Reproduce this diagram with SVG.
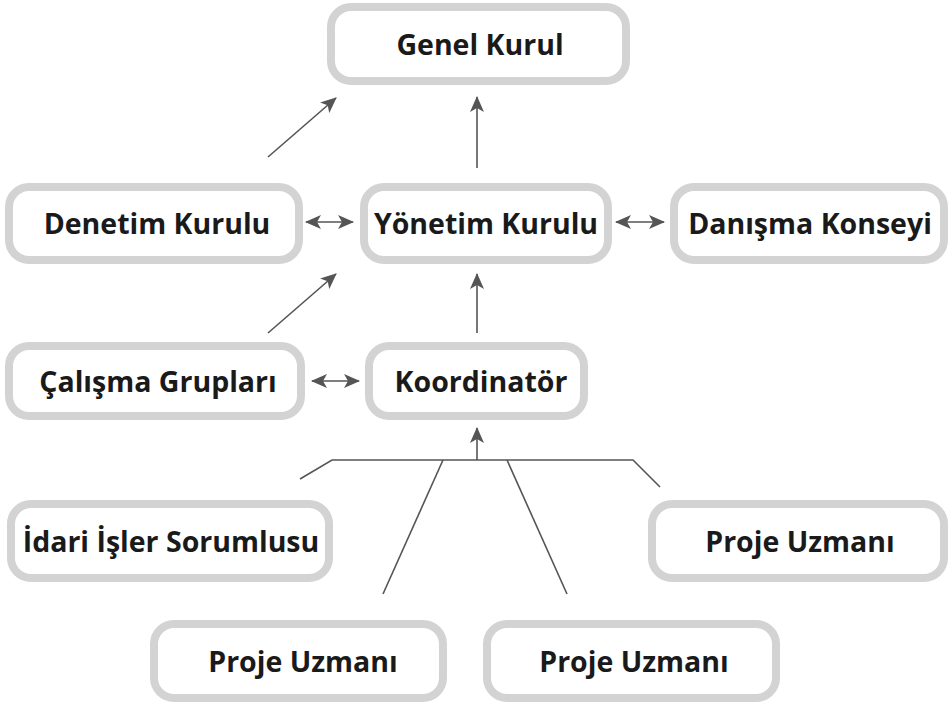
<svg xmlns="http://www.w3.org/2000/svg" width="952" height="708" viewBox="0 0 952 708">
<style>
.box{fill:#fff;stroke:#d3d3d3;stroke-width:8}
.t{font-family:"Open Sans","Noto Sans",sans-serif;font-weight:bold;font-size:28.5px;fill:#1a1a1a;text-anchor:middle;dominant-baseline:central}
.c{stroke:#555;stroke-width:1.6;fill:none}
</style>
<defs>
<marker id="ahb" viewBox="0 0 16 14" refX="15" refY="7" markerWidth="16" markerHeight="14" markerUnits="userSpaceOnUse" orient="auto-start-reverse">
<path d="M0,0 L16,7 L0,14 L4,7 z" fill="#555"/>
</marker>
</defs>
<g id="connectors">
<line class="c" x1="268" y1="157" x2="336" y2="98" marker-end="url(#ahb)"/>
<line class="c" x1="477" y1="168" x2="477" y2="97" marker-end="url(#ahb)"/>
<line class="c" x1="268" y1="333" x2="336" y2="274" marker-end="url(#ahb)"/>
<line class="c" x1="477" y1="333" x2="477" y2="274" marker-end="url(#ahb)"/>
<line class="c" x1="306" y1="222" x2="353" y2="222" marker-start="url(#ahb)" marker-end="url(#ahb)"/>
<line class="c" x1="616" y1="222" x2="664" y2="222" marker-start="url(#ahb)" marker-end="url(#ahb)"/>
<line class="c" x1="312" y1="381" x2="359" y2="381" marker-start="url(#ahb)" marker-end="url(#ahb)"/>
<line class="c" x1="477" y1="460" x2="477" y2="428" marker-end="url(#ahb)"/>
<polyline class="c" points="300,479 332,460 633,460 660,487"/>
<line class="c" x1="443" y1="460" x2="383" y2="594"/>
<line class="c" x1="507" y1="460" x2="567" y2="594"/>
</g>
<g id="genel-kurul"><rect class="box" x="331" y="7" width="295" height="74" rx="20"/><text class="t" x="480" y="44">Genel Kurul</text></g>
<g id="denetim-kurulu"><rect class="box" x="9" y="187" width="290" height="73" rx="20"/><text class="t" x="157" y="223">Denetim Kurulu</text></g>
<g id="yonetim-kurulu"><rect class="box" x="364" y="187" width="244" height="73" rx="20"/><text class="t" x="486" y="223">Yönetim Kurulu</text></g>
<g id="danisma-konseyi"><rect class="box" x="674" y="187" width="270" height="73" rx="20"/><text class="t" x="810" y="223">Danışma Konseyi</text></g>
<g id="calisma-gruplari"><rect class="box" x="9" y="346" width="292" height="70" rx="20"/><text class="t" x="158" y="381">Çalışma Grupları</text></g>
<g id="koordinator"><rect class="box" x="369" y="346" width="215" height="70" rx="20"/><text class="t" x="481" y="381">Koordinatör</text></g>
<g id="idari-isler"><rect class="box" x="11" y="504" width="318" height="74" rx="20"/><text class="t" x="171" y="541">İdari İşler Sorumlusu</text></g>
<g id="proje-uzmani-1"><rect class="box" x="652" y="504" width="292" height="74" rx="20"/><text class="t" x="800" y="541">Proje Uzmanı</text></g>
<g id="proje-uzmani-2"><rect class="box" x="154" y="624" width="289" height="74" rx="20"/><text class="t" x="303" y="661">Proje Uzmanı</text></g>
<g id="proje-uzmani-3"><rect class="box" x="487" y="624" width="289" height="74" rx="20"/><text class="t" x="634" y="661">Proje Uzmanı</text></g>
</svg>
